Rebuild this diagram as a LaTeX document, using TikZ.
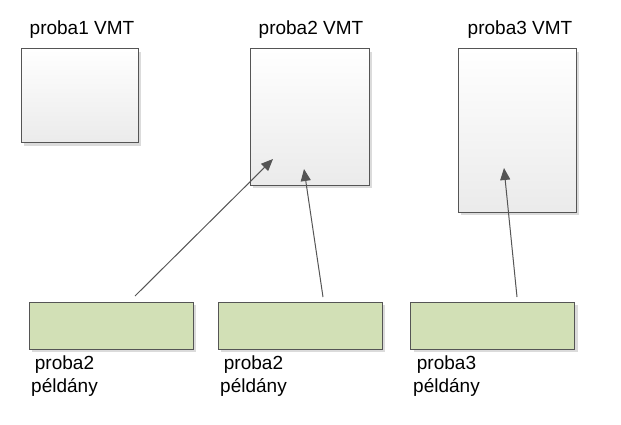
\documentclass[tikz,border=0pt]{standalone}
\usepackage{fontspec}
\setmainfont{Liberation Sans}
\usetikzlibrary{arrows.meta,shadows}

\definecolor{edge}{HTML}{555555}
\definecolor{inst}{HTML}{D2E0B6}
\definecolor{arrowgray}{HTML}{555555}

\begin{document}
\begin{tikzpicture}[
  x=1pt, y=-1pt,
  every node/.style={font=\fontsize{19}{23}\selectfont},
  vmt/.style={draw=edge, line width=1pt, top color=white, bottom color=black!8,
    minimum width=#1, inner sep=0pt,
    drop shadow={shadow xshift=3pt, shadow yshift=-3pt, fill=black!14, opacity=1}},
  peld/.style={draw=edge, line width=1pt, fill=inst, minimum width=164pt,
    minimum height=47pt, inner sep=0pt,
    drop shadow={shadow xshift=3pt, shadow yshift=-3pt, fill=black!14, opacity=1}},
  lab/.style={inner sep=0pt, align=center},
  >={Triangle[length=12pt, width=10pt]}
]
\useasboundingbox (0,0) rectangle (621,425);

% --- VMT boxes ---
\node[vmt=117pt, minimum height=94pt]  (v1) at (79.5,96)  {};
\node[vmt=119pt, minimum height=136pt] (v2) at (309.5,117) {};
\node[vmt=118pt, minimum height=163pt] (v3) at (517,130.5) {};
\node[lab, anchor=base] (l1) at (82,35)  {proba1 VMT};
\node[lab, anchor=base] (l2) at (311,35) {proba2 VMT};
\node[lab, anchor=base] (l3) at (520,35) {proba3 VMT};

% --- instances ---
\node[peld] (g1) at (111,325.5) {};
\node[peld] (g2) at (300,325.5) {};
\node[peld] (g3) at (492.5,325.5) {};
\node[lab, anchor=north] (p1) at (64.5,356)  {proba2\\példány};
\node[lab, anchor=north] (p2) at (253.5,356) {proba2\\példány};
\node[lab, anchor=north] (p3) at (446.5,356) {proba3\\példány};

% --- references ---
\coordinate (s1) at (135,296);
\coordinate (t1) at (273,159);
\coordinate (s2) at (323,297);
\coordinate (t2) at (304,169);
\coordinate (s3) at (517,297);
\coordinate (t3) at (504,168);
\draw[->, arrowgray, line width=1pt] (s1) -- (t1);
\draw[->, arrowgray, line width=1pt] (s2) -- (t2);
\draw[->, arrowgray, line width=1pt] (s3) -- (t3);

\end{tikzpicture}
\end{document}
